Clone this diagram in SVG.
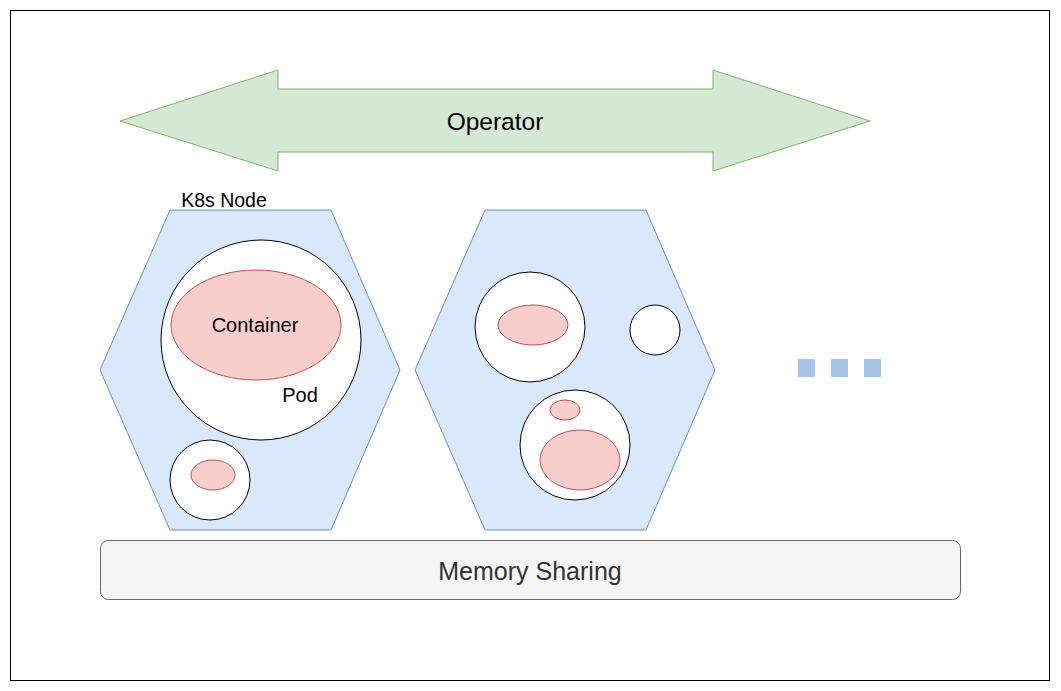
<svg xmlns="http://www.w3.org/2000/svg" width="1061" height="691" viewBox="0 0 1061 691">
<style>
.hex{fill:#dae8fc;stroke:#6c8ebf;stroke-width:1}
.pod{fill:#ffffff;stroke:#000000;stroke-width:1}
.ctr{fill:#f8cecc;stroke:#b85450;stroke-width:1}
.t{font-family:"Liberation Sans",Arial,sans-serif;fill:#000;text-anchor:middle;dominant-baseline:central}
.dot{fill:#a9c4eb}
</style>
<rect x="10.5" y="10.5" width="1039" height="670" fill="#ffffff" stroke="#000000" stroke-width="1"/>
<g id="operator">
<polygon points="120,121 278,70 278,89 713,89 713,70 870,121 713,171 713,152 278,152 278,171" fill="#d5e8d4" stroke="#82b366" stroke-width="1"/>
<text class="t" x="495" y="121" font-size="24.5">Operator</text>
</g>
<g id="node1">
<polygon class="hex" points="170,210 331,210 400,370 331,530 170,530 100,370"/>
<text class="t" x="224" y="200" font-size="19.5">K8s Node</text>
</g>
<g id="pod1">
<circle class="pod" cx="261" cy="340" r="100"/>
<text class="t" x="300" y="395" font-size="20">Pod</text>
</g>
<g id="container1">
<ellipse class="ctr" cx="256" cy="325" rx="85" ry="55"/>
<text class="t" x="255" y="325" font-size="20">Container</text>
</g>
<g id="pod2">
<circle class="pod" cx="210" cy="480" r="40"/>
<ellipse class="ctr" cx="213" cy="475" rx="22" ry="15"/>
</g>
<g id="node2">
<polygon class="hex" points="485,210 646,210 715,370 646,530 485,530 415,370"/>
</g>
<g id="pod3">
<circle class="pod" cx="530" cy="327" r="55"/>
<ellipse class="ctr" cx="533" cy="325" rx="35" ry="20"/>
</g>
<g id="pod4">
<circle class="pod" cx="655" cy="330" r="25"/>
</g>
<g id="pod5">
<circle class="pod" cx="575" cy="445" r="55"/>
<ellipse class="ctr" cx="565" cy="410" rx="15" ry="10"/>
<ellipse class="ctr" cx="580" cy="460" rx="40" ry="30"/>
</g>
<g id="more">
<rect class="dot" x="798" y="359" width="17" height="18"/>
<rect class="dot" x="831" y="359" width="17" height="18"/>
<rect class="dot" x="864" y="359" width="17" height="18"/>
</g>
<g id="memory">
<rect x="100.5" y="540.5" width="860" height="59" rx="8" ry="8" fill="#f5f5f5" stroke="#666666" stroke-width="1"/>
<text class="t" x="530" y="571" font-size="25" style="fill:#333333">Memory Sharing</text>
</g>
<g id="connectors"></g>
</svg>
